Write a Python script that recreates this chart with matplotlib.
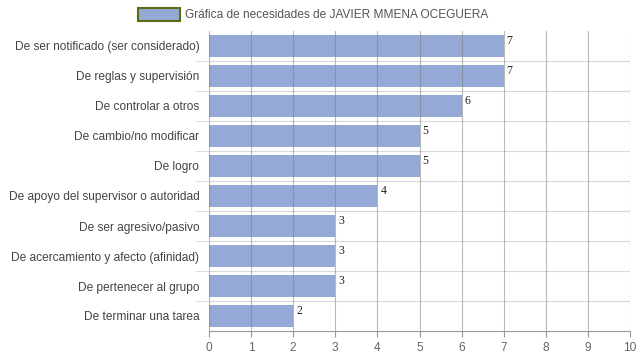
import matplotlib
matplotlib.use("Agg")
import matplotlib.pyplot as plt
from matplotlib.patches import Rectangle
import numpy as np

categories = [
    "De ser notificado (ser considerado)",
    "De reglas y supervisión",
    "De controlar a otros",
    "De cambio/no modificar",
    "De logro",
    "De apoyo del supervisor o autoridad",
    "De ser agresivo/pasivo",
    "De acercamiento y afecto (afinidad)",
    "De pertenecer al grupo",
    "De terminar una tarea",
]
values = [7, 7, 6, 5, 5, 4, 3, 3, 3, 2]
xticks = list(range(0, 11))
legend_label = "Gráfica de necesidades de JAVIER MMENA OCEGUERA"

FS = 8.6
fig = plt.figure(figsize=(6.39, 3.6), dpi=100)
ax = fig.add_axes([209/639, 1-331/360, (630-209)/639, 300/360])

n = len(categories)
ypos = np.arange(n)
ax.barh(ypos, values, height=0.73, color="#94a9d5", zorder=2)
ax.set_ylim(n - 0.5, -0.5)
ax.set_xlim(0, 10)

# vertical grid lines
for x in xticks:
    ax.axvline(x, color="#808080", lw=0.8, alpha=0.55, zorder=3)
# horizontal band separators
for b in np.arange(0.5, n - 1, 1.0):
    ax.axhline(b, color="#d8d8d8", lw=0.8, zorder=1)

ax.set_xticks(xticks)
ax.set_xticklabels([str(t) for t in xticks], fontsize=FS, color="#666666",
                   family="Liberation Sans")
ax.tick_params(axis="x", length=4, color="#999999", pad=4)
ax.set_yticks(ypos)
ax.set_yticklabels(categories, fontsize=FS, color="#444444", family="Liberation Sans")
ax.tick_params(axis="y", length=0, pad=7)
ax.set_yticks(np.arange(0.5, n - 1, 1.0), minor=True)
ax.tick_params(axis="y", which="minor", length=10, color="#d8d8d8")

for s in ["top", "right", "left"]:
    ax.spines[s].set_visible(False)
ax.spines["bottom"].set_color("#999999")
ax.spines["bottom"].set_linewidth(0.8)

for y, v in zip(ypos, values):
    ax.text(v + 0.07, y - 0.36, str(v), fontsize=FS, family="Liberation Serif",
            color="#222222", va="top", ha="left", zorder=4)

# legend
fig.patches.append(Rectangle((138/639, 1-21/360), 42/639, 13/360,
                             transform=fig.transFigure, facecolor="#94a9d5",
                             edgecolor="#5f6b12", lw=1.5))
fig.text(185/639, 1-14.5/360, legend_label, fontsize=FS, color="#555555",
         family="Liberation Sans", va="center", ha="left")

fig.savefig("out.png", dpi=100)
